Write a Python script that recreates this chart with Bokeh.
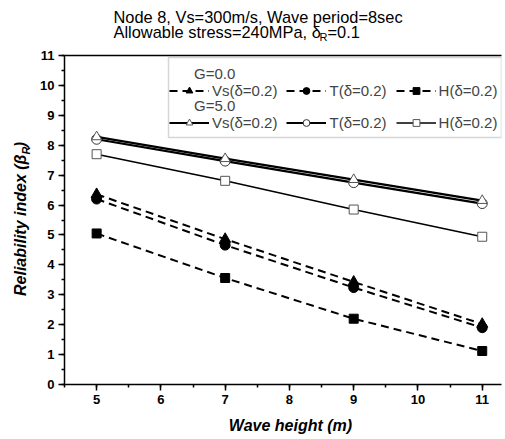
import math
from bokeh.plotting import figure
from bokeh.layouts import column, row
from bokeh.models import (Range1d, LinearAxis, FixedTicker, Legend, LegendItem,
                          Label, BoxAnnotation, SingleIntervalTicker)
from bokeh.embed import file_html
from bokeh.resources import INLINE

# ---------------- data ----------------
wave_height = [5, 7, 9, 11]
g0_vs = [6.36, 4.86, 3.43, 2.02]
g0_t = [6.20, 4.66, 3.24, 1.90]
g0_h = [5.05, 3.56, 2.20, 1.12]
g5_vs = [8.28, 7.55, 6.85, 6.15]
g5_t = [8.20, 7.47, 6.75, 6.05]
g5_h = [7.70, 6.81, 5.85, 4.94]
series_labels = ["Vs(\u03b4=0.2)", "T(\u03b4=0.2)", "H(\u03b4=0.2)"]
group_labels = ["G=0.0", "G=5.0"]

# ---------------- layout (page pixels) ----------------
X0, X1, Y0, Y1 = 4.5, 11.3, 0, 11
FL, FR, FT, FB = 64, 501, 55, 384   # frame edges
TITLE_H = 45                         # height of the title strip
YLAB_W = 36                          # width of the y-label strip
BOT_B = 30                           # bottom border of the main plot
MAIN_H = (FB - TITLE_H) + BOT_B
XLAB_H = 438 - (TITLE_H + MAIN_H)
W = FR + 2


def dx(px):
    return X0 + (px - FL) * (X1 - X0) / (FR - FL)


def dy(py):
    return Y1 - (py - FT) * (Y1 - Y0) / (FB - FT)


p = figure(frame_width=FR - FL, frame_height=FB - FT,
           x_range=Range1d(X0, X1), y_range=Range1d(Y0, Y1),
           output_backend="svg", toolbar_location=None,
           min_border_left=FL - YLAB_W, min_border_top=FT - TITLE_H,
           min_border_bottom=BOT_B, min_border_right=2)
p.xgrid.visible = False
p.ygrid.visible = False
p.outline_line_color = None

p.xaxis.ticker = SingleIntervalTicker(interval=1, num_minor_ticks=2)
p.yaxis.ticker = SingleIntervalTicker(interval=1, num_minor_ticks=2)
for ax in (p.xaxis[0], p.yaxis[0]):
    ax.axis_line_width = 1.5
    ax.axis_line_color = "black"
    ax.major_tick_line_width = 1.5
    ax.minor_tick_line_width = 1.5
    ax.major_tick_line_color = "black"
    ax.minor_tick_line_color = "black"
    ax.major_tick_in = 0
    ax.major_tick_out = 6
    ax.minor_tick_in = 0
    ax.minor_tick_out = 3
    ax.major_label_text_font = "Liberation Sans"
    ax.major_label_text_font_style = "bold"
    ax.major_label_text_font_size = "13px"
    ax.major_label_text_color = "black"
    ax.major_label_standoff = 4

top = LinearAxis(ticker=FixedTicker(ticks=[]), axis_line_width=1.5,
                 axis_line_color="black", major_label_text_font_size="0px")
p.add_layout(top, "above")


def series(y, dash, marker, fill, outline, lw, size):
    ln = p.line(wave_height, y, line_color="black", line_width=lw, line_dash=dash)
    sc = p.scatter(wave_height, y, marker=marker, size=size, fill_color=fill,
                   line_color=outline, line_width=1)
    return [ln, sc]


dash = "8 5"
r_g5_h = series(g5_h, "solid", "square", "white", "#555555", 1.6, 9)
r_g5_t = series(g5_t, "solid", "circle", "white", "#333333", 2.2, 10)
r_g5_vs = series(g5_vs, "solid", "triangle", "white", "#555555", 2.2, 10)
r_g0_h = series(g0_h, dash, "square", "black", "black", 2, 9)
r_g0_t = series(g0_t, dash, "circle", "black", "black", 2, 10)
r_g0_vs = series(g0_vs, dash, "triangle", "black", "black", 2, 11)

# legend frame
box = BoxAnnotation(left=dx(168), right=dx(501), top=dy(57), bottom=dy(137),
                    fill_color="white", fill_alpha=1, line_color="#777777",
                    line_width=1.5)
p.add_layout(box)


def make_legend(title, rends, bottom_px):
    leg = Legend(items=[LegendItem(label=lab, renderers=r)
                        for lab, r in zip(series_labels, rends)],
                 orientation="horizontal", location=(169 - FL, FB - bottom_px),
                 title="\u00a0" * 6 + title, title_standoff=0,
                 title_text_font="Liberation Sans", title_text_font_size="15px",
                 title_text_font_style="normal",
                 label_text_font="Liberation Sans", label_text_font_size="15px",
                 glyph_width=40, glyph_height=17, label_height=14,
                 label_standoff=3, spacing=9, padding=2, margin=0,
                 border_line_color=None, background_fill_alpha=0)
    p.add_layout(leg)
    return leg


make_legend(group_labels[0], [r_g0_vs, r_g0_t, r_g0_h], 99)
make_legend(group_labels[1], [r_g5_vs, r_g5_t, r_g5_h], 131)


def strip(width, height):
    f = figure(width=width, height=height, x_range=Range1d(0, width),
               y_range=Range1d(0, height), x_axis_type=None, y_axis_type=None,
               output_backend="svg", toolbar_location=None, min_border=0)
    f.outline_line_color = None
    return f


def tlab(fig, top_px, text, px, py, size, style="normal", align="left", angle=0.0):
    # (px, py): page position of the middle of the text line
    fig.add_layout(Label(x=px, y=top_px - py, text=text,
                         text_font="Liberation Sans", text_font_size=size,
                         text_font_style=style, text_align=align,
                         text_baseline="middle", angle=angle,
                         text_color="black"))


# ---------------- title strip ----------------
tf = strip(W, TITLE_H)
tlab(tf, TITLE_H, "Node 8, Vs=300m/s, Wave period=8sec", 113, 16, "16.4px")
tlab(tf, TITLE_H, "Allowable stress=240MPa, \u03b4", 113, 31, "16.4px")
tlab(tf, TITLE_H, "R", 319, 36.5, "11px")
tlab(tf, TITLE_H, "=0.1", 327, 31, "16.4px")

# ---------------- y-label strip ----------------
yf = strip(YLAB_W, MAIN_H)
ytop = TITLE_H + MAIN_H
tlab(yf, ytop, "Reliability index (\u03b2", 19.5, 156, "16px", "bold italic", "right", math.pi / 2)
tlab(yf, ytop, "R", 25, 156, "11px", "bold italic", "left", math.pi / 2)
tlab(yf, ytop, ")", 19.5, 148, "16px", "bold italic", "left", math.pi / 2)

# ---------------- x-label strip ----------------
xf = strip(W, XLAB_H)
tlab(xf, TITLE_H + MAIN_H + XLAB_H, "Wave height (m)", 290, 424.5, "16px", "bold italic", "center")

layout = column(tf, row(yf, p), xf)
open("out.html", "w").write(file_html(layout, INLINE))
